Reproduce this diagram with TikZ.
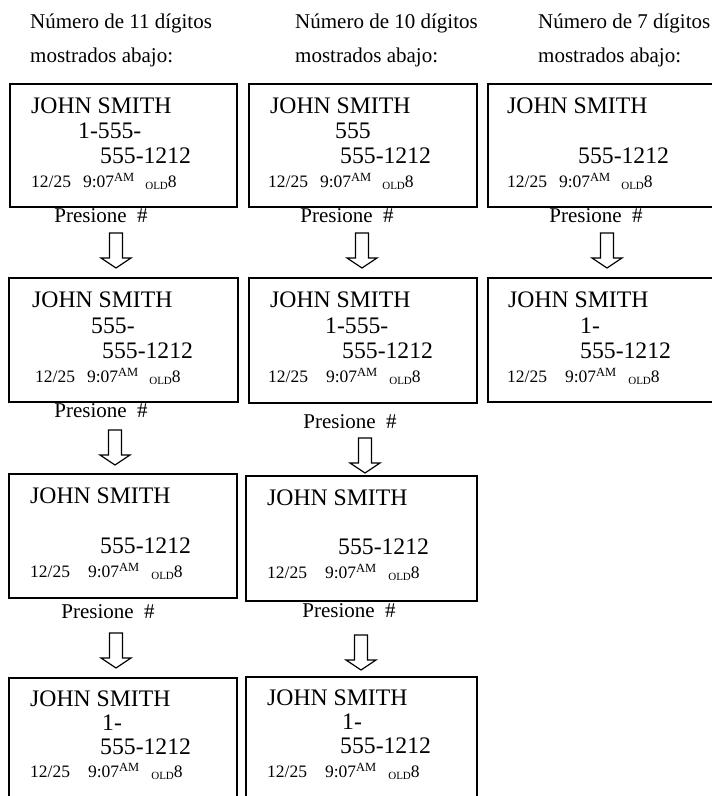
\documentclass[tikz,border=0pt]{standalone}
\usepackage{fontspec}
\setmainfont{Liberation Serif}
\usetikzlibrary{calc}
\newcommand{\bigf}{\fontsize{23.7}{28}\selectfont}
\newcommand{\datef}{\fontsize{17.5}{21}\selectfont}
\newcommand{\midf}{\fontsize{21}{25}\selectfont}
\newcommand{\dline}[2]{12/25\hspace*{#1}9:07\raisebox{6pt}{\fontsize{12.5}{13}\selectfont AM}\hspace*{#2}\raisebox{-2pt}{\fontsize{11}{12}\selectfont OLD}8}
\newcommand{\blockarrow}[1]{\draw[arrowline] ($(#1)+(-6.5,0)$) -- ++(13,0) -- ++(0,25) -- ++(8.5,0) -- ++(-15,10) -- ++(-15,-10) -- ++(8.5,0) -- cycle;}
\tikzset{
  screenbox/.style={draw, line width=1.5pt, anchor=north west, inner sep=0pt},
  bigtxt/.style={anchor=base west, inner sep=0pt, font=\bigf},
  datetxt/.style={anchor=base west, inner sep=0pt, font=\datef},
  presstxt/.style={anchor=base, inner sep=0pt, font=\midf},
  headtxt/.style={anchor=base west, inner sep=0pt, font=\midf},
  arrowline/.style={draw=black, fill=white, line width=1.2pt, line join=miter}
}
\begin{document}
\begin{tikzpicture}[x=1pt,y=-1pt]
\clip (0,0) rectangle (712,796);
\fill[white] (0,0) rectangle (712,796);
% headers
\node[headtxt] (h1a) at (30,28) {Número de 11 dígitos};
\node[headtxt] (h1b) at (30,62) {mostrados abajo:};
\node[headtxt] (h2a) at (295,28) {Número de 10 dígitos};
\node[headtxt] (h2b) at (295,62) {mostrados abajo:};
\node[headtxt] (h3a) at (538,28) {Número de 7 dígitos};
\node[headtxt] (h3b) at (538,62) {mostrados abajo:};
% column 1
\node[screenbox, minimum width=227pt, minimum height=123pt] (b11) at (9,83) {};
\node[bigtxt] (b11a) at (31,113) {JOHN SMITH};
\node[bigtxt] (b11b) at (78,138) {1-555-};
\node[bigtxt] (b11c) at (100,163) {555-1212};
\node[datetxt] (b11d) at (31,187) {\dline{12pt}{11pt}};
\node[presstxt] (p11) at (101,222) {Presione\ \ \#};
\coordinate (a11) at (116,233);
\blockarrow{a11}
\node[screenbox, minimum width=229pt, minimum height=124pt] (b12) at (8,277) {};
\node[bigtxt] (b12a) at (32,307) {JOHN SMITH};
\node[bigtxt] (b12b) at (91,333) {555-};
\node[bigtxt] (b12c) at (102,358) {555-1212};
\node[datetxt] (b12d) at (35,382) {\dline{12pt}{11pt}};
\node[presstxt] (p12) at (101,417) {Presione\ \ \#};
\coordinate (a12) at (115,430);
\blockarrow{a12}
\node[screenbox, minimum width=228pt, minimum height=124pt] (b13) at (8,473) {};
\node[bigtxt] (b13a) at (30,503) {JOHN SMITH};
\node[bigtxt] (b13c) at (100,553) {555-1212};
\node[datetxt] (b13d) at (30,577) {\dline{18pt}{12pt}};
\node[presstxt] (p13) at (108,618) {Presione\ \ \#};
\coordinate (a13) at (116,633);
\blockarrow{a13}
\node[screenbox, minimum width=228pt, minimum height=160pt] (b14) at (8,677) {};
\node[bigtxt] (b14a) at (30,706) {JOHN SMITH};
\node[bigtxt] (b14b) at (102,730) {1-};
\node[bigtxt] (b14c) at (100,754) {555-1212};
\node[datetxt] (b14d) at (30,777) {\dline{18pt}{12pt}};
% column 2
\node[screenbox, minimum width=228pt, minimum height=123pt] (b21) at (248,83) {};
\node[bigtxt] (b21a) at (270,113) {JOHN SMITH};
\node[bigtxt] (b21b) at (335,138) {555};
\node[bigtxt] (b21c) at (340,163) {555-1212};
\node[datetxt] (b21d) at (268,187) {\dline{12pt}{11pt}};
\node[presstxt] (p21) at (347,222) {Presione\ \ \#};
\coordinate (a21) at (362,233);
\blockarrow{a21}
\node[screenbox, minimum width=228pt, minimum height=125pt] (b22) at (248,277) {};
\node[bigtxt] (b22a) at (270,307) {JOHN SMITH};
\node[bigtxt] (b22b) at (325,333) {1-555-};
\node[bigtxt] (b22c) at (342,358) {555-1212};
\node[datetxt] (b22d) at (268,382) {\dline{18pt}{12pt}};
\node[presstxt] (p22) at (350,428) {Presione\ \ \#};
\coordinate (a22) at (365,438);
\blockarrow{a22}
\node[screenbox, minimum width=231pt, minimum height=125pt] (b23) at (245,475) {};
\node[bigtxt] (b23a) at (267,505) {JOHN SMITH};
\node[bigtxt] (b23c) at (338,554) {555-1212};
\node[datetxt] (b23d) at (267,578) {\dline{18pt}{12pt}};
\node[presstxt] (p23) at (349,617) {Presione\ \ \#};
\coordinate (a23) at (361,635);
\blockarrow{a23}
\node[screenbox, minimum width=231pt, minimum height=160pt] (b24) at (245,676) {};
\node[bigtxt] (b24a) at (267,705) {JOHN SMITH};
\node[bigtxt] (b24b) at (342,729) {1-};
\node[bigtxt] (b24c) at (340,753) {555-1212};
\node[datetxt] (b24d) at (267,777) {\dline{18pt}{12pt}};
% column 3
\node[screenbox, minimum width=240pt, minimum height=123pt] (b31) at (487,83) {};
\node[bigtxt] (b31a) at (507,113) {JOHN SMITH};
\node[bigtxt] (b31c) at (578,163) {555-1212};
\node[datetxt] (b31d) at (507,187) {\dline{12pt}{11pt}};
\node[presstxt] (p31) at (596,222) {Presione\ \ \#};
\coordinate (a31) at (607,233);
\blockarrow{a31}
\node[screenbox, minimum width=240pt, minimum height=124pt] (b32) at (487,277) {};
\node[bigtxt] (b32a) at (508,307) {JOHN SMITH};
\node[bigtxt] (b32b) at (580,333) {1-};
\node[bigtxt] (b32c) at (580,358) {555-1212};
\node[datetxt] (b32d) at (507,382) {\dline{18pt}{12pt}};
\end{tikzpicture}
\end{document}
